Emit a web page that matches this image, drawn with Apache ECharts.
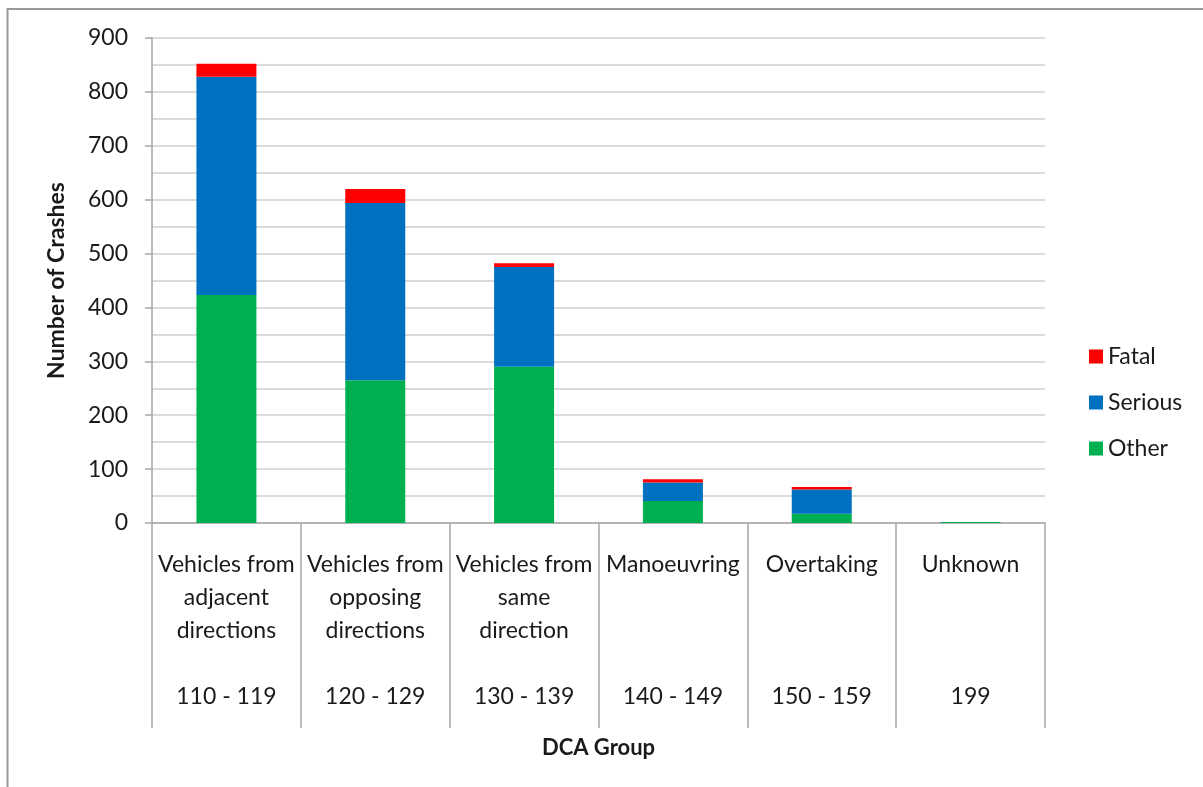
<!DOCTYPE html>
<html>
<head>
<meta charset="utf-8">
<style>
  html, body { margin: 0; padding: 0; background: #fff; }
  #chart { width: 1203px; height: 787px; }
</style>
<script src="https://cdn.jsdelivr.net/npm/echarts@6/dist/echarts.min.js"></script>
</head>
<body>
<div id="chart"></div>
<script>
// DCA groups: description and code range
const categories = [
  'Vehicles from\nadjacent\ndirections\n\n110 - 119',
  'Vehicles from\nopposing\ndirections\n\n120 - 129',
  'Vehicles from\nsame\ndirection\n\n130 - 139',
  'Manoeuvring\n\n\n\n140 - 149',
  'Overtaking\n\n\n\n150 - 159',
  'Unknown\n\n\n\n199'
];

// Crash counts by severity
const otherCrashes   = [423, 265, 290, 41, 17, 2];
const seriousCrashes = [405, 329, 185, 34, 45, 0];
const fatalCrashes   = [24, 26, 7, 6, 5, 0];

const yTicks = [0, 100, 200, 300, 400, 500, 600, 700, 800, 900];

const FONT = 'Lato, "Open Sans", sans-serif';
const TEXT = '#1a1a1a';

const chart = echarts.init(document.getElementById('chart'), null, { renderer: 'canvas' });

chart.setOption({
  animation: false,
  backgroundColor: '#fff',
  textStyle: { fontFamily: FONT, color: TEXT },
  graphic: [
    {
      type: 'rect',
      shape: { x: 7.5, y: 9, width: 1220, height: 800 },
      style: { fill: 'none', stroke: '#9a9a9a', lineWidth: 2 },
      silent: true
    }
  ],
  grid: { left: 152, right: 158, top: 38, bottom: 264, containLabel: false },
  legend: {
    orient: 'vertical',
    left: 1084,
    top: 340,
    itemWidth: 14,
    itemHeight: 14,
    itemGap: 23,
    icon: 'rect',
    textStyle: { fontFamily: FONT, fontSize: 23, color: TEXT },
    data: ['Fatal', 'Serious', 'Other']
  },
  xAxis: {
    type: 'category',
    data: categories,
    name: 'DCA Group',
    nameLocation: 'middle',
    nameGap: 214,
    nameTextStyle: { fontFamily: FONT, fontSize: 22, fontWeight: 'bold', color: TEXT },
    axisLine: { show: true, lineStyle: { color: '#a6a6a6', width: 1.5 } },
    axisTick: { show: true, length: 205, interval: 0, lineStyle: { color: '#a6a6a6', width: 1.5 } },
    axisLabel: {
      interval: 0,
      margin: 25,
      fontFamily: FONT,
      fontSize: 23,
      lineHeight: 33,
      color: TEXT
    }
  },
  yAxis: {
    type: 'value',
    min: 0,
    max: 900,
    interval: 100,
    name: 'Number of Crashes',
    nameLocation: 'middle',
    nameGap: 84,
    nameRotate: 90,
    nameTextStyle: { fontFamily: FONT, fontSize: 23, fontWeight: 'bold', color: TEXT },
    axisLine: { show: true, lineStyle: { color: '#a6a6a6', width: 1.5 } },
    axisTick: { show: true, length: 7, inside: false, lineStyle: { color: '#a6a6a6', width: 1.5 } },
    axisLabel: {
      margin: 24,
      fontFamily: FONT,
      fontSize: 23,
      color: TEXT,
      formatter: v => (yTicks.includes(v) ? String(v) : '')
    },
    splitLine: { show: true, lineStyle: { color: '#d0d0d0', width: 1.5 } },
    minorTick: { show: false, splitNumber: 2 },
    minorSplitLine: { show: true, lineStyle: { color: '#d0d0d0', width: 1.5 } }
  },
  series: [
    {
      name: 'Other',
      type: 'bar',
      stack: 'crashes',
      data: otherCrashes,
      barWidth: 60,
      itemStyle: { color: '#00B050' }
    },
    {
      name: 'Serious',
      type: 'bar',
      stack: 'crashes',
      data: seriousCrashes,
      barWidth: 60,
      itemStyle: { color: '#0070C0' }
    },
    {
      name: 'Fatal',
      type: 'bar',
      stack: 'crashes',
      data: fatalCrashes,
      barWidth: 60,
      itemStyle: { color: '#FF0000' }
    }
  ]
});
</script>
</body>
</html>
